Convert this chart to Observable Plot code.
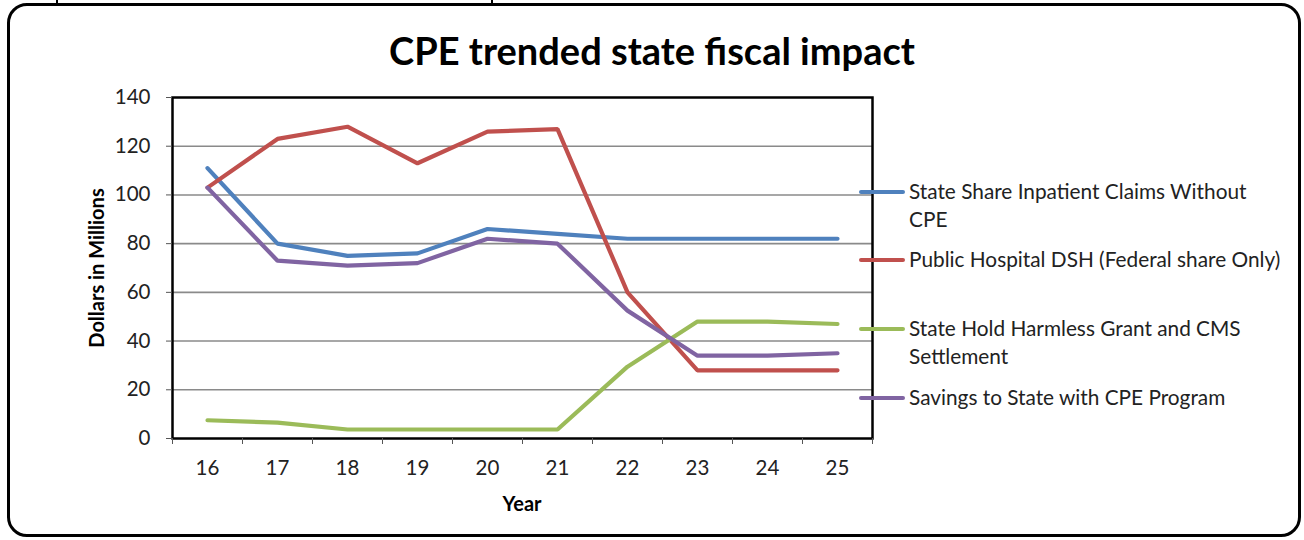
<!DOCTYPE html>
<html>
<head>
<meta charset="utf-8">
<script src="https://cdn.jsdelivr.net/npm/d3@7"></script>
<script src="https://cdn.jsdelivr.net/npm/@observablehq/plot@0.6"></script>
<style>
  html, body { margin: 0; padding: 0; background: #fff; }
  #wrap { position: relative; width: 1304px; height: 540px; overflow: hidden; font-family: Lato, "Open Sans", sans-serif; color: #222; }
  #box { position: absolute; left: 7px; top: 3px; width: 1288px; height: 528px; border: 3px solid #000; border-radius: 20px; }
  .nub { position: absolute; top: 0; width: 2px; height: 4px; background: #000; }
  #title { position: absolute; left: 0; width: 1304px; top: 27px; text-align: center; font-weight: 700; font-size: 38px; line-height: 46px; color: #000; }
  #ylabel { position: absolute; left: 96px; top: 268px; transform: translate(-50%, -50%) rotate(-90deg); font-weight: 700; font-size: 20px; white-space: nowrap; color: #000; }
  #xlabel { position: absolute; left: 522px; top: 503px; transform: translate(-50%, -50%); font-weight: 700; font-size: 20px; color: #000; }
  #chart { position: absolute; left: 0; top: 0; }
  .leg { position: absolute; left: 858px; font-size: 20.8px; line-height: 28px; color: #222; }
  .leg svg { position: absolute; left: 0; top: 12px; }
  .leg span { display: block; margin-left: 51px; width: 400px; }
</style>
</head>
<body>
<div id="wrap">
  <div id="box"></div>
  <div class="nub" style="left:56px"></div>
  <div class="nub" style="left:491px"></div>
  <div id="title">CPE trended state fiscal impact</div>
  <div id="chart"></div>
  <div id="ylabel">Dollars in Millions</div>
  <div id="xlabel">Year</div>
  <div id="legend"></div>
</div>
<script>
// ---- data ----
const years = [16, 17, 18, 19, 20, 21, 22, 23, 24, 25];
const seriesNames = [
  "State Share Inpatient Claims Without CPE",
  "Public Hospital DSH (Federal share Only)",
  "State Hold Harmless Grant and CMS Settlement",
  "Savings to State with CPE Program"
];
const stateShare = [111, 80, 75, 76, 86, 84, 82, 82, 82, 82];
const publicDSH = [103, 123, 128, 113, 126, 127, 60, 28, 28, 28];
const holdHarmless = [7.5, 6.5, 3.7, 3.7, 3.7, 3.7, 29.5, 48, 48, 47];
const savings = [103, 73, 71, 72, 82, 80, 52.5, 34, 34, 35];
const seriesColors = ["#4F81BD", "#C0504D", "#9BBB59", "#8064A2"];
const yTicks = [0, 20, 40, 60, 80, 100, 120, 140];
const legendLines = [
  ["State Share Inpatient Claims Without", "CPE"],
  ["Public Hospital DSH (Federal share Only)"],
  ["State Hold Harmless Grant and CMS", "Settlement"],
  ["Savings to State with CPE Program"]
];
const legendTops = [177, 245, 314, 383];

// ---- build table ----
const seriesValues = [stateShare, publicDSH, holdHarmless, savings];
const rows = [];
seriesNames.forEach((name, i) => {
  years.forEach((yr, j) => rows.push({series: name, year: yr, value: seriesValues[i][j]}));
});
const bounds = [years[0] - 0.5, ...years.map(y => y + 0.5)];

const plot = Plot.plot({
  width: 1304,
  height: 540,
  marginLeft: 172,
  marginRight: 432,
  marginTop: 97,
  marginBottom: 102,
  style: {background: "transparent", fontFamily: "Lato, sans-serif", fontSize: "20.5px", color: "#222"},
  x: {type: "linear", domain: [bounds[0], bounds[bounds.length - 1]]},
  y: {domain: [0, 140]},
  color: {domain: seriesNames, range: seriesColors},
  marks: [
    Plot.ruleY(yTicks.filter(t => t > 0 && t < 140), {stroke: "#8a8a8a", strokeWidth: 1.6}),
    Plot.line(rows, {x: "year", y: "value", z: "series", stroke: "series", strokeWidth: 4.2, strokeLinejoin: "miter", strokeLinecap: "round", curve: "linear"}),
    Plot.frame({stroke: "#000", strokeWidth: 2.5}),
    Plot.axisY({ticks: yTicks, tickSize: 6, tickPadding: 16, label: null, stroke: "#555"}),
    Plot.axisX({ticks: bounds, tickSize: 6, tickFormat: () => "", label: null, stroke: "#555"}),
    Plot.axisX({ticks: years, tickSize: 0, tickPadding: 22, tickFormat: d => String(d), label: null})
  ]
});
document.getElementById("chart").appendChild(plot);

// ---- legend ----
const legend = document.getElementById("legend");
legendLines.forEach((lines, i) => {
  const item = document.createElement("div");
  item.className = "leg";
  item.style.top = legendTops[i] + "px";
  item.innerHTML = `<svg width="48" height="6"><line x1="3" y1="3" x2="45" y2="3" stroke="${seriesColors[i]}" stroke-width="4" stroke-linecap="round"/></svg>` +
    lines.map(t => `<span>${t}</span>`).join("");
  legend.appendChild(item);
});
</script>
</body>
</html>
